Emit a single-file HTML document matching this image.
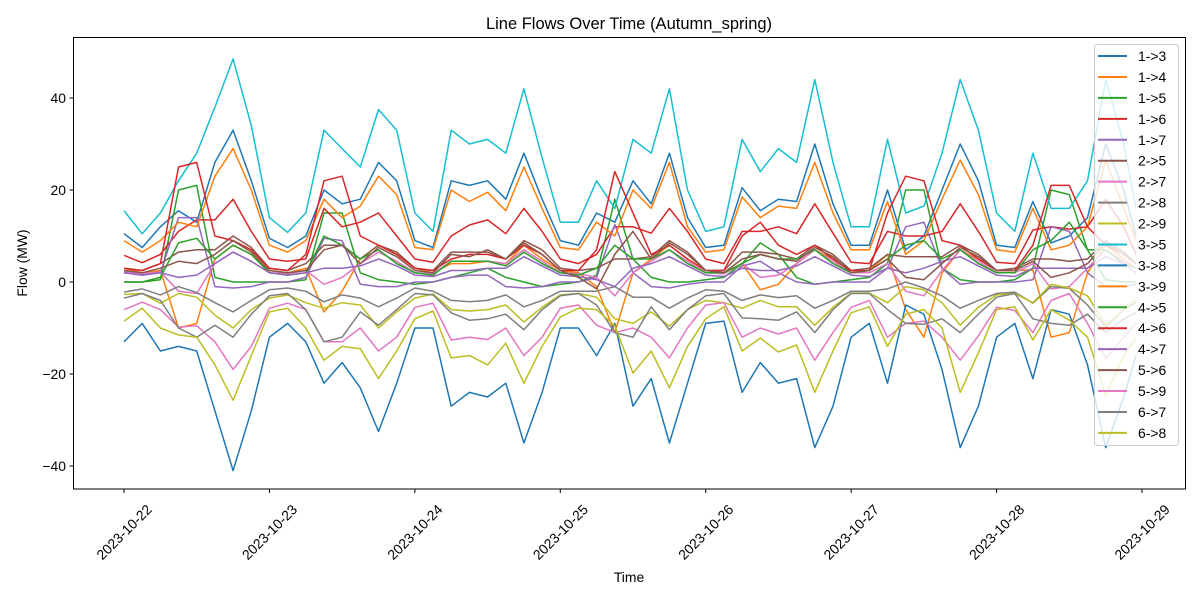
<!DOCTYPE html>
<html><head><meta charset="utf-8"><title>Line Flows Over Time</title>
<style>
html,body{margin:0;padding:0;background:#fff;}
svg{display:block;font-family:"Liberation Sans","DejaVu Sans",sans-serif;}
</style></head>
<body>
<svg id="chart" width="1200" height="600" viewBox="0 0 1200 600" xmlns="http://www.w3.org/2000/svg">
<rect width="1200" height="600" fill="#fff"/>
<text x="629" y="29" font-size="16.5" text-anchor="middle">Line Flows Over Time (Autumn_spring)</text>
<text x="629" y="582" font-size="13.9" text-anchor="middle">Time</text>
<text x="27" y="263" font-size="13.9" text-anchor="middle" transform="rotate(-90 27 263)">Flow (MW)</text>
<g id="series"></g>
<rect x="73.5" y="37.5" width="1112" height="451.5" fill="none" stroke="#000" stroke-width="1"/>
<g id="axes"></g>
<g id="legend"></g>
</svg>
<script>
// hours sampled every 3 h from 2023-10-22 00:00
const dates = ["2023-10-22","2023-10-23","2023-10-24","2023-10-25","2023-10-26","2023-10-27","2023-10-28","2023-10-29"];
const yTicks = [-40,-20,0,20,40];
const s13 = [10.5,7.5,12,15.5,13,26,33,22,9.5,7.5,10,20,17,18,26,22,9,7.5,22,21,22,18,28,18,9,8,15,13,22,17,28,14,7.5,8,20.5,15.5,18,17.5,30,17,8,8,20,7,10,20,30,22,8,7.5,17.5,8.5,10,14,30,20,10];
const s14 = [3,2,2.5,-10,-9,5,8,6,2.5,2,3,-6.5,-2,5,8,6,3,2,4,4,4.5,4,8,5,2.5,2,-1,-11,2,5,8,5,2.5,2,4,-1.7,-0.5,4,7,5,2,2.5,6,-6,-12,2,7,5,2.5,2.5,2.6,-12,-11,2,8,5,3];
const s15 = [0,0,0.5,20,21,1,0,0,0,0,0.5,15,15,2,0.5,0,-0.5,0,1,2,3,1,0,-1,-0.5,0,1.5,18,5,1,0,0,0.5,1,4,8.5,6,1,-0.5,0,0.5,1,4,20,20,3,0.5,0,0,0.5,3,20,19,7,0.5,0,0];
const s16 = [5.8,4.2,6,11,13.5,13.5,18,11,5,4.5,5,16,12,13,15,10,5,4.3,10,12.4,13.5,10.5,16,11,5,4,6,12,12,10.6,16,11,5,4,11,11,12,10.5,17,10.6,4.3,4,11,10,10,11,17,11,4.3,4,11.3,12,11.5,12,18,12,6];
const s17 = [2,1.5,2,14,14,-1,-1.3,-1,0,0,1,9.5,9,-0.5,-1,-1,0,0,1,1.5,1.5,-1,-1.3,-1,0,0,1,12.5,2,-1,-1.3,-0.5,0,0,3.5,4.5,2,0,-0.5,0,0,0,3,12,13,3,-0.5,0,0,0,0.5,12,11,2,-1,-1,-0.5];
const s25 = [3,2.5,4,6.5,7,7,10,7.5,3,2.5,4,8,8,5,8,6.5,3,2.5,6.5,6.5,6.5,5,9,7,3,2.5,3,5,5,5.5,9,6.5,2.5,2.5,6.5,6.5,6,5,8,6,2.5,3,6,5.5,5.5,5.5,8,6,2.5,3,5,5,4.5,5,9,6.5,4];
const s27 = [2.2,1.8,2.2,-2,-2.5,4,6.5,4.5,2,1.8,2.5,-0.5,1,4,6.5,4.5,2,1.8,4.5,4.5,4.5,4,7,4.5,2,1.8,1,-3,2,4.5,7,4.5,2,1.8,4,1,1.5,4,7,4.5,2,2,4,-2,-3,2.5,7,4.5,2,2,4,-1.5,-1,3,7,4.5,3];
const s28 = [-2.2,-1.5,-2.8,-1,-2.3,-4.5,-6.5,-4,-1.7,-1.3,-2,-4.3,-2.8,-3.5,-5.4,-3.5,-1.3,-2,-4,-4.3,-4,-2.8,-5.4,-4,-2,-2,-2,-1,-3.3,-3.3,-5.7,-3.5,-1.7,-2,-4,-2.8,-3.4,-3,-5.7,-4,-2,-2,-1.5,0,-1.3,-3,-5.7,-4,-2.5,-2.2,-4.6,-1,-1.4,-5,-9.8,-6,-4.5];
const s29 = [-2.7,-2.5,-4.6,-2.5,-3.3,-7.2,-10,-6,-3.5,-2.8,-4.5,-5.7,-4.5,-5,-10,-6.5,-3.5,-2.6,-6,-6.3,-6,-5,-8.7,-5.5,-2.8,-2.5,-3.3,-8,-9,-6.5,-9.6,-6,-4,-4.5,-5.7,-4,-5.4,-5.4,-9.4,-5.5,-2.4,-2.4,-4.5,-1,-1.7,-4.5,-9.4,-5.5,-2.8,-2.5,-4.5,-0.5,-1.3,-3,-9.4,-6,-3.7];
const s35 = [15.5,10.5,15,22,28,38,48.5,34,14,10.8,15,33,29,25,37.5,33,15,11,33,30,31,28,42,27,13,13,22,16,31,28,42,20,11,12,31,24,29,26,44,26,12,12,31,15,16.5,28,44,33,15,11,28,16,16,22,44,30,16];
const s38 = [-13,-9,-15,-14,-15,-28,-41,-28,-12,-9,-13,-22,-17.5,-23,-32.5,-22,-10,-10,-27,-24,-25,-22,-35,-24,-10,-10,-16,-9,-27,-21,-35,-22,-9,-8.5,-24,-17.5,-22,-21,-36,-27,-12,-9,-22,-5,-7,-19,-36,-27,-12,-9,-21,-6,-7,-18,-36,-25,-16];
const s39 = [9,6.5,9,13,12,23,29,20,8,6.5,9,18,14,16.5,23,19,7.5,7,20,17.5,19.5,15.5,25,16,7.5,7,13,10,20,16,26,12,6.5,7,18.5,14,16.5,16,26,15,7,7,17.5,6,9,18,26.5,19,7,6.5,16,7,8,12,26.5,16,9];
const s45 = [0,0,1,8.5,9.5,5,8,6,2,1.5,2,10,8,5,7,4,2,1.5,4.5,4.5,4.5,3.5,6.5,4,2,1.5,3,8,5,5,7,4,2,2,4,6,5,5,7,4,2,2.5,5,8,9,5,7,4,2,2,7,9,13,7,7,4,3];
const s46 = [3,2.5,4,25,26,10,9,7,3,2.5,6,22,23,10,8,6,3,2.5,5,6,6,5,8,6,2.5,2.5,7,24,15,6,8,5,2.5,2.5,10,13,8,6,8,5,2.5,2.5,15,23,22,9,8,5,2.5,2.5,8,21,21,12,8,6,4];
const s47 = [2,1.5,2,1,1.5,4,6.5,4.5,2,1.5,2,3,3,3.5,5,3.5,1.5,1.2,2.5,2.5,3,3,5.5,3.5,1.5,1.2,0.5,-1,3,4,5.5,3.5,1.5,1.2,3,2.5,2.5,3.5,5.5,3.5,1.5,1.2,3,2,3,4.5,5.5,3.5,1.5,1.2,3,3,3,3,5.5,4,2];
const s56 = [2.5,2,3,4.5,4,6,9,6.5,2.5,2,2.5,7,8,4,7.5,5.5,2.5,2,6,5.5,7,5,8.5,6,2.5,1,-1.5,6,11,5,8.5,6,2.5,2,5,6,5,4.5,7.5,5.5,2,2.5,5,1,0.5,4,7.5,5.5,2.5,2.5,4.5,1,2,4,8.5,6,4];
const s59 = [-6,-4.4,-6,-9.8,-9.5,-13,-19,-14,-5.7,-4.6,-6,-13,-13,-10,-15,-12,-5.5,-4.6,-12.6,-12,-12.5,-10,-16,-12,-5.7,-5,-9.4,-11,-10,-12,-16.5,-10,-5,-4.5,-12,-10,-11.3,-10,-17,-11,-5.5,-4,-12,-9,-8.5,-12,-17,-11.7,-5.5,-6.2,-11,-4,-2.5,-9,-16.6,-12,-9];
const s67 = [-3.5,-2.5,-4,-10,-12,-9.4,-12,-7,-3,-2.5,-6,-13,-12,-6.5,-9.4,-6,-2.5,-2.8,-6.7,-8.3,-8,-7,-10.4,-6,-3,-2.5,-5,-11,-12,-5.4,-10.4,-6,-3,-2.5,-7.8,-8,-8.3,-6.5,-11,-6,-2.5,-2.5,-6,-9,-9.2,-8,-11,-7,-3.3,-2.5,-8,-9,-9.4,-7,-11,-8,-6.7];
const s68 = [-8.5,-5.7,-10,-11.5,-12,-18,-25.7,-16,-6.5,-5.7,-10,-17,-14,-14.5,-21,-15,-8,-6.3,-16.5,-16,-18,-13.3,-22,-14,-7.6,-5.7,-6,-9.5,-19.8,-15,-23,-14,-8,-5.4,-15,-12.2,-15.2,-13.7,-24,-15,-6.7,-5.4,-14,-7,-6,-10,-24,-15.4,-6,-5.4,-12.6,-6,-8.3,-12,-24.6,-16,-12];

const series = [s13,s14,s15,s16,s17,s25,s27,s28,s29,s35,s38,s39,s45,s46,s47,s56,s59,s67,s68];
const legendNames = ["1->3","1->4","1->5","1->6","1->7","2->5","2->7","2->8","2->9","3->5","3->8","3->9","4->5","4->6","4->7","5->6","5->9","6->7","6->8"];
const palette = ["#1f77b4","#ff7f0e","#2ca02c","#d62728","#9467bd","#8c564b","#e377c2","#7f7f7f","#bcbd22","#17becf"];

const NS = "http://www.w3.org/2000/svg";
const X0 = 124, PX_PER_HOUR = 145.43/24;
function xScale(h){ return X0 + h*PX_PER_HOUR; }
function yScale(v){ return 282 - v*4.6; }

const sg = document.getElementById('series');
series.forEach((vals, k) => {
  const pts = vals.map((v,i) => xScale(Math.min(i*3,167)).toFixed(1)+','+yScale(v).toFixed(1)).join(' ');
  const pl = document.createElementNS(NS,'polyline');
  pl.setAttribute('points', pts);
  pl.setAttribute('fill','none');
  pl.setAttribute('stroke', palette[k%10]);
  pl.setAttribute('stroke-width','1.5');
  pl.setAttribute('stroke-linejoin','round');
  
  
  sg.appendChild(pl);
});

const ag = document.getElementById('axes');
yTicks.forEach(t => {
  const y = yScale(t);
  const ln = document.createElementNS(NS,'line');
  ln.setAttribute('x1',69.5); ln.setAttribute('x2',73.5);
  ln.setAttribute('y1',y); ln.setAttribute('y2',y);
  ln.setAttribute('stroke','#000');
  
  
  ag.appendChild(ln);
  const tx = document.createElementNS(NS,'text');
  tx.setAttribute('x',66); tx.setAttribute('y',y+5);
  tx.setAttribute('font-size','13.9');
  tx.setAttribute('text-anchor','end');
  tx.textContent = t < 0 ? '\u2212'+Math.abs(t) : String(t);
  
  
  ag.appendChild(tx);
});
dates.forEach((d,i) => {
  const x = xScale(i*24);
  const ln = document.createElementNS(NS,'line');
  ln.setAttribute('x1',x); ln.setAttribute('x2',x);
  ln.setAttribute('y1',489); ln.setAttribute('y2',493);
  ln.setAttribute('stroke','#000');
  
  
  ag.appendChild(ln);
  const tx = document.createElementNS(NS,'text');
  tx.setAttribute('x',x); tx.setAttribute('y',537);
  tx.setAttribute('font-size','13.9');
  tx.setAttribute('text-anchor','middle');
  tx.setAttribute('transform','rotate(-45 '+x+' 532)');
  tx.textContent = d;
  
  
  ag.appendChild(tx);
});

const lg = document.getElementById('legend');
const box = document.createElementNS(NS,'rect');
box.setAttribute('x',1094.5); box.setAttribute('y',44.5);
box.setAttribute('width',84); box.setAttribute('height',401);
box.setAttribute('rx',3);
box.setAttribute('fill','rgba(255,255,255,0.8)');
box.setAttribute('stroke','#ccc');


lg.appendChild(box);
legendNames.forEach((n,k) => {
  const y = 56 + k*20.94;
  const ln = document.createElementNS(NS,'line');
  ln.setAttribute('x1',1098); ln.setAttribute('x2',1127);
  ln.setAttribute('y1',y); ln.setAttribute('y2',y);
  ln.setAttribute('stroke',palette[k%10]); ln.setAttribute('stroke-width','2');
  
  
  lg.appendChild(ln);
  const tx = document.createElementNS(NS,'text');
  tx.setAttribute('x',1138); tx.setAttribute('y',y+5);
  tx.setAttribute('font-size','13.9');
  tx.textContent = n;
  
  
  lg.appendChild(tx);
});
</script>
</body></html>
